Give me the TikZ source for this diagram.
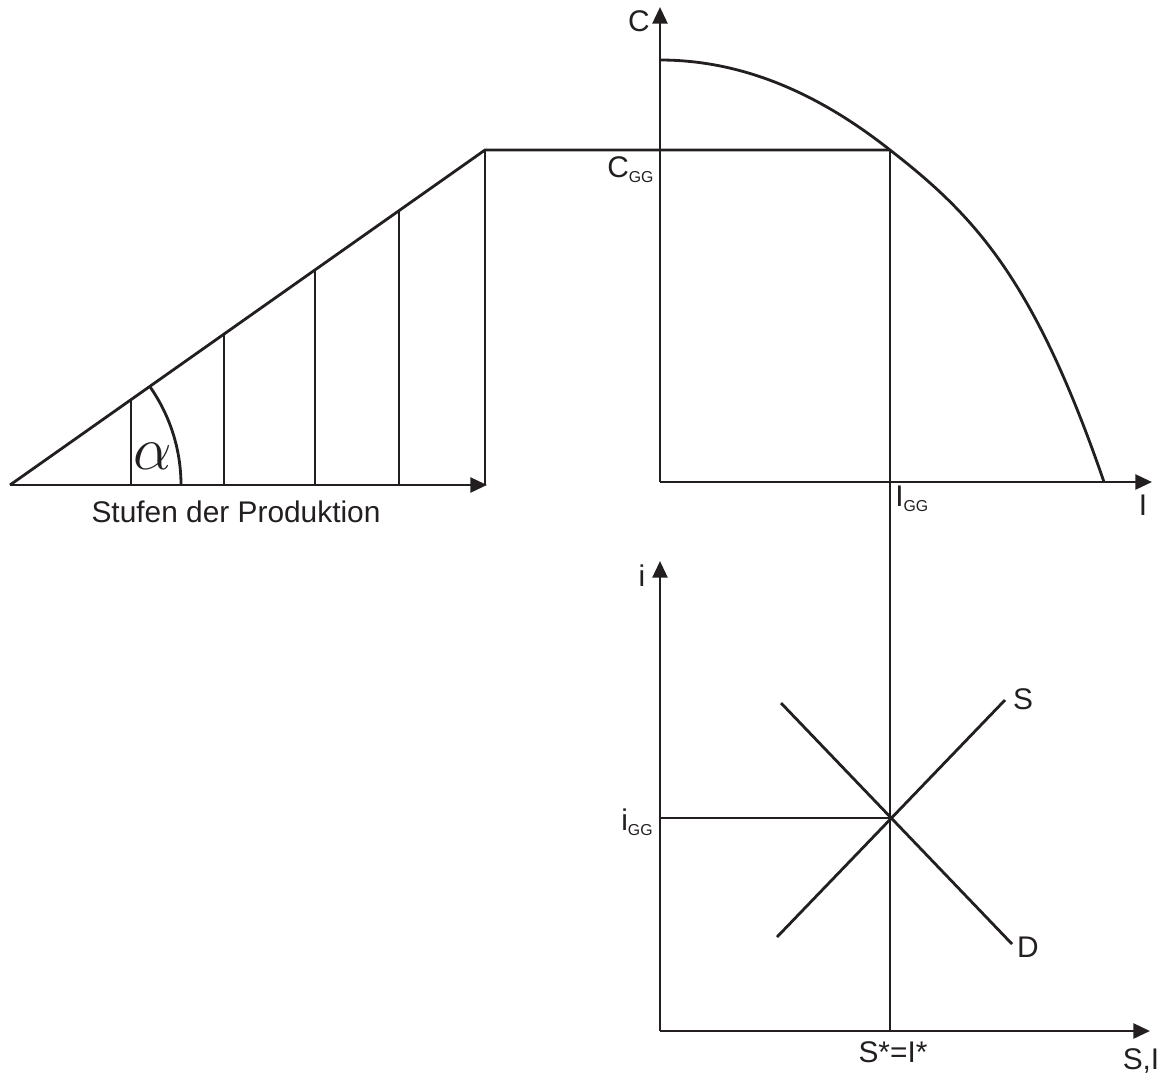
\documentclass[tikz,border=0pt]{standalone}
\usepackage{fontspec}
\setmainfont{Liberation Sans}
\usetikzlibrary{arrows.meta}
\definecolor{ink}{HTML}{231F20}
\newcommand\gsub[1]{\raisebox{-3.4pt}{\fontsize{9}{9}\selectfont #1}}
\begin{document}
\begin{tikzpicture}[x=0.02cm,y=-0.02cm,
  line/.style={draw=ink,line width=1.6pt},
  axis/.style={line,-{Triangle[length=9.5pt,width=8.5pt]}},
  lab/.style={text=ink,inner sep=0pt,font=\fontsize{17}{20}\selectfont}]
\useasboundingbox (0,0) rectangle (1165,1076);
% coordinates
\coordinate (O1) at (10,485);
\coordinate (X1) at (487,485);
\coordinate (T1) at (485,150);
\coordinate (O2) at (660,482);
\coordinate (Y2) at (660,7);
\coordinate (X2) at (1152,482);
\coordinate (C0) at (660,60);
\coordinate (Cend) at (1104,482);
\coordinate (E) at (890,150);
\coordinate (O3) at (660,1031);
\coordinate (Y3) at (660,561);
\coordinate (X3) at (1150,1031);
\coordinate (Q) at (890,818);
\coordinate (iq) at (660,818);
\coordinate (Sb) at (890,1031);
\coordinate (S1) at (777,937);
\coordinate (S2) at (1005,700);
\coordinate (D1) at (781,703);
\coordinate (D2) at (1012,944);
% left panel
\draw[axis] (O1) -- (X1);
\draw[line,line join=miter] (O1) -- (T1) -- (E);
\draw[line] (T1) -- (T1 |- O1);
\path (O1) -- (T1)
  coordinate[pos=121/475] (v1)
  coordinate[pos=214/475] (v2)
  coordinate[pos=305/475] (v3)
  coordinate[pos=389/475] (v4);
\foreach \v in {v1,v2,v3,v4} \draw[line] (\v) -- (\v |- O1);
\draw[line] (181,485) arc[start angle=0,end angle=-35.19,radius=171];
\node[lab,font=\fontsize{24.88}{26}\selectfont] (alpha) at (153,456) {\scalebox{1.4}{$\alpha$}};
\node[lab] (stufen) at (236,512) {Stufen der Produktion};
% top right panel
\draw[axis] (O2) -- (Y2);
\draw[axis] (O2) -- (X2);
\draw[line] (C0) .. controls (737,60) and (813,89) .. (E)
  .. controls (975,216) and (1034,279) .. (Cend);
\draw[line] (E) -- (Sb);
\node[lab] (C) at (639,21) {C};
\node[lab,anchor=base west] (CGG) at (607,177) {C\gsub{GG}};
\node[lab,anchor=base west] (IGG) at (895,506) {I\gsub{GG}};
\node[lab] (I) at (1143,505) {I};
% bottom panel
\draw[axis] (O3) -- (Y3);
\draw[axis] (O3) -- (X3);
\draw[line] (iq) -- (Q);
\draw[line] (S1) -- (S2);
\draw[line] (D1) -- (D2);
\node[lab] (i) at (642,576) {i};
\node[lab,anchor=base west] (iGG) at (621,830) {i\gsub{GG}};
\node[lab] (S) at (1023,699) {S};
\node[lab] (D) at (1028,947) {D};
\node[lab] (SI) at (893,1052) {S*=I*};
\node[lab,anchor=base] (SIax) at (1141,1069) {S,I};
\end{tikzpicture}
\end{document}
